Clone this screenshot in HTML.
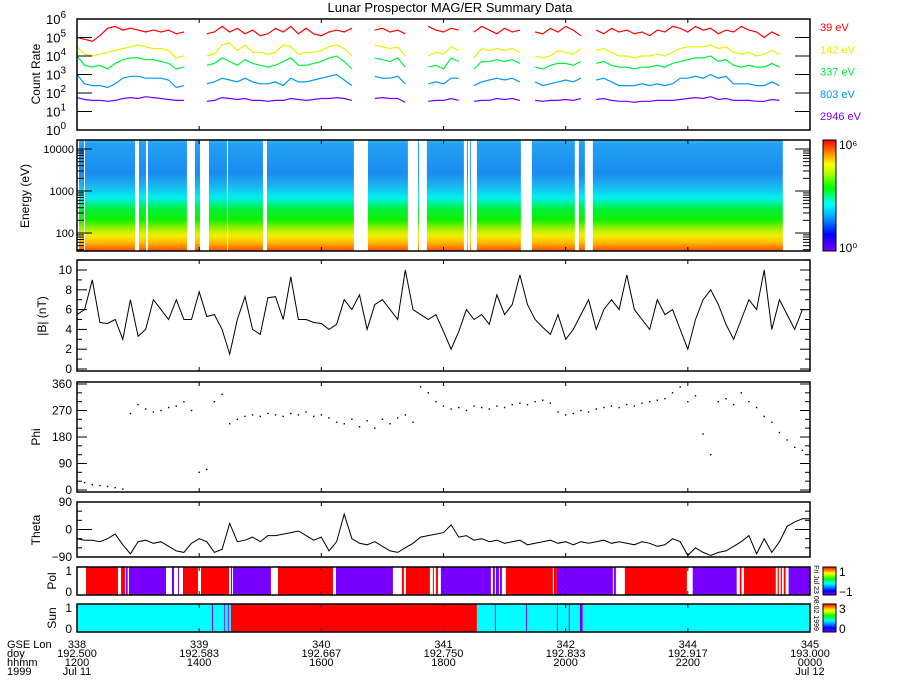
<!DOCTYPE html>
<html><head><meta charset="utf-8"><style>
html,body{margin:0;padding:0;background:#fff;}
svg{display:block;font-family:"Liberation Sans",sans-serif;}
</style></head>
<body>
<svg id="chart" xmlns="http://www.w3.org/2000/svg" width="900" height="700" viewBox="0 0 900 700">
<defs>
<linearGradient id="specGrad" x1="0" y1="0" x2="0" y2="1">
<stop offset="0" stop-color="#3ab4f2"/><stop offset="0.04" stop-color="#22a0f2"/>
<stop offset="0.3" stop-color="#1a8cf0"/><stop offset="0.42" stop-color="#1ab8f0"/>
<stop offset="0.52" stop-color="#00f0f0"/><stop offset="0.62" stop-color="#00f040"/>
<stop offset="0.72" stop-color="#10f000"/><stop offset="0.8" stop-color="#a0f000"/>
<stop offset="0.86" stop-color="#f0f000"/><stop offset="0.92" stop-color="#ffc000"/>
<stop offset="1" stop-color="#ff5000"/></linearGradient>
<linearGradient id="cbGrad" x1="0" y1="1" x2="0" y2="0">
<stop offset="0" stop-color="#7800ff"/><stop offset="0.15" stop-color="#0000ff"/>
<stop offset="0.3" stop-color="#00a0ff"/><stop offset="0.42" stop-color="#00ffff"/>
<stop offset="0.57" stop-color="#00ff00"/><stop offset="0.7" stop-color="#b0ff00"/>
<stop offset="0.78" stop-color="#ffff00"/><stop offset="0.89" stop-color="#ff8000"/>
<stop offset="1" stop-color="#ff0000"/></linearGradient>
</defs>
<text x="450" y="12" font-size="13" text-anchor="middle">Lunar Prospector MAG/ER Summary Data</text>
<g id="g"></g>
</svg>
<script>
// ---- data (hours since 1200 UT, step 0.125h for count rates) ----
const countStep = 0.125;
const cr39 = [5.0,4.9,4.8,5.1,5.5,5.6,5.4,5.5,5.4,5.3, 5.4,5.3,5.4,5.2,5.3,null,null,5.2,5.3,5.6, 5.3,5.5,5.2,5.4,5.1,5.2,5.5,5.3,5.6,5.2, 5.5,5.2,5.1,5.3,5.4,5.3,5.5,null,null,5.4, 5.5,5.3,5.4,5.2,null,null,5.6,5.4,5.3,5.5, 5.4,null,5.3,5.6,5.4,5.2,5.5,5.3,5.4,null, 5.3,5.2,5.5,5.3,5.6,5.4,5.1,null,5.4,5.2, 5.5,5.3,5.4,5.2,5.3,5.1,5.4,5.3,5.6,5.5, 5.3,5.6,5.4,5.5,5.2,5.4,5.3,5.6,5.4,5.3, 5.0,5.3,5.1];
const cr142 = [4.5,4.1,4.0,4.1,4.2,4.3,4.4,4.5,4.6,4.5, 4.4,4.4,4.3,3.9,4.0,null,null,4.0,4.1,4.6, 4.7,4.3,4.6,4.2,4.2,4.1,4.2,4.6,4.5,4.1, 4.2,4.2,4.3,4.5,4.6,4.4,4.0,null,null,4.6, 4.5,4.4,4.5,4.0,null,null,4.0,4.2,4.1,4.5, 4.3,null,3.9,4.4,4.3,4.4,4.3,4.4,4.2,null, 4.0,3.9,4.0,4.3,4.2,4.1,4.4,null,4.3,4.4, 4.2,4.0,4.0,3.9,4.0,4.0,4.1,4.0,4.2,4.4, 4.5,4.5,4.5,4.6,4.4,4.5,4.2,4.1,4.2,4.0, 4.1,4.3,4.1];
const cr337 = [4.0,3.5,3.4,3.5,3.3,3.6,3.8,3.9,3.9,3.8, 3.8,3.7,3.6,3.3,3.4,null,null,3.5,3.6,3.9, 3.7,3.5,3.8,3.6,3.5,3.4,3.5,3.7,3.9,3.5, 3.5,3.6,3.7,3.9,4.0,3.7,3.3,null,null,3.9, 3.8,3.7,3.9,3.4,null,null,3.4,3.5,3.3,3.9, 3.7,null,3.3,3.7,3.7,3.8,3.7,3.8,3.6,null, 3.4,3.3,3.5,3.6,3.6,3.5,3.7,null,3.6,3.7, 3.5,3.4,3.4,3.3,3.4,3.4,3.5,3.4,3.6,3.7, 3.8,3.9,3.9,4.0,3.7,3.8,3.5,3.4,3.5,3.4, 3.4,3.6,3.4];
const cr803 = [3.0,2.5,2.4,2.4,2.3,2.5,2.8,2.9,2.9,2.8, 2.8,2.8,2.7,2.3,2.4,null,null,2.5,2.6,2.8, 2.7,2.6,2.8,2.6,2.5,2.5,2.6,2.4,2.8,2.6, 2.6,2.7,2.8,2.9,3.0,2.7,2.4,null,null,2.9, 2.8,2.8,2.9,2.5,null,null,2.5,2.6,2.5,2.8, 2.8,null,2.4,2.6,2.7,2.8,2.7,2.8,2.6,null, 2.6,2.4,2.5,2.6,2.7,2.6,2.8,null,2.7,2.8, 2.6,2.4,2.4,2.4,2.5,2.4,2.5,2.4,2.5,2.8, 2.8,2.9,2.8,3.0,2.8,2.9,2.5,2.5,2.5,2.4, 2.4,2.6,2.4];
const cr2946 = [1.75,1.65,1.6,1.6,1.55,1.6,1.7,1.75,1.7,1.8, 1.75,1.7,1.65,1.6,1.6,null,null,1.55,1.6,1.75, 1.7,1.65,1.7,1.6,1.6,1.55,1.6,1.6,1.7,1.65, 1.6,1.65,1.7,1.7,1.75,1.7,1.6,null,null,1.7, 1.75,1.7,1.7,1.5,null,null,1.55,1.6,1.6,1.7, 1.6,null,1.55,1.6,1.6,1.7,1.65,1.7,1.6,null, 1.6,1.55,1.6,1.6,1.65,1.6,1.7,null,1.65,1.7, 1.6,1.55,1.55,1.5,1.55,1.55,1.6,1.6,1.6,1.65, 1.7,1.75,1.7,1.8,1.65,1.7,1.6,1.6,1.6,1.55, 1.55,1.65,1.6];
const channelLabels = ["39 eV","142 eV","337 eV","803 eV","2946 eV"];
// spectrogram data segments (start hour, end hour)
const specStart = [0.033,0.131,1.015,1.162,1.931,2.16,2.471,3.11,4.763,5.581,5.728,6.383,6.432,6.547,7.447,8.216,8.445];
const specEnd   = [0.115,0.949,1.129,1.8,2.013,2.455,3.044,4.533,5.417,5.597,6.334,6.399,6.448,7.267,8.15,8.314,11.555];
// magnetometer (step 0.125 h, 0..12)
const magStep = 0.125;
const bMag = [5.5,6,9,4.7,4.6,5,3,7,3.3,4, 7,6,5,7,5,5,7.8,5.3,5.5,4, 1.5,5,7.3,4,3.5,7.2,7.3,5,9.3,5, 5,4.7,4.6,4,4.5,7,6,7.5,4,6.5, 7,6,5,10,6,5.5,5,5.5,3.8,2, 3.8,6,5,5.5,4.5,7.5,5.5,6.5,9.5,6.5, 5,4.2,3.5,5.5,3,4,5.5,7,4,6, 7,6,9.5,6,5,4,7,5.5,6,4, 2,5,7,8,6.5,4.5,3,5,7,6, 10,4,7,5.5,4,6,6];
const phi = [22,25,18,15,12,8,3,260,290,275, 265,270,280,285,300,270,60,70,300,325, 225,240,250,255,250,260,255,250,260,255, 265,250,255,245,230,225,240,215,235,210, 240,225,245,255,230,350,330,300,285,275, 280,270,285,280,275,285,280,290,295,290, 300,305,295,265,255,260,270,265,275,280, 285,280,290,285,295,300,305,310,330,350, 300,320,190,120,300,310,290,330,300,280, 250,230,195,170,145,135,130];
const theta = [-30,-35,-35,-40,-30,-15,-50,-80,-40,-35, -45,-40,-55,-70,-75,-45,-30,-40,-75,-65, 20,-40,-35,-25,-40,-20,-20,-15,-10,-5, -20,-35,-25,-70,-40,50,-30,-45,-50,-40, -55,-70,-75,-60,-45,-25,-20,-15,-10,15, -25,-20,-35,-30,-40,-35,-45,-40,-35,-50, -45,-40,-35,-45,-40,-50,-40,-45,-40,-35, -45,-40,-45,-50,-40,-45,-55,-50,-30,-40, -85,-60,-75,-85,-75,-70,-55,-40,-20,-80, -30,-75,-40,10,25,35,35];
// polarity segments (start hour, value: 1, -1, null = no data)
const polStart = [0,0.147,0.671,0.72,0.786,0.80,0.83,0.851,1.457,1.555,1.588,1.653,1.669,1.735,1.98,2.029,2.488,2.52,2.537,2.553,3.175,3.29,4.19,4.239,5.172,5.319,5.352,5.385,5.777,5.826,5.843,5.876,5.908,5.957,6.776,6.808,6.841,6.858,6.907,6.923,6.956,7.021,7.79,7.807,7.856,8.773,8.789,8.822,8.969,9.984,10.08,10.80,10.85,10.88,10.92,11.44,11.47,11.49,11.52,11.54,11.57,11.6,11.65];
const polVal   = [null,1,null,1,null,-1,null,-1,null,-1,null,-1,null,1,null,1,null,-1,null,-1,null,1,null,-1,null,1,null,1,null,1,null,1,null,-1,null,-1,null,-1,null,-1,null,1,null,1,-1,null,-1,null,1,null,-1,null,1,null,1,null,1,null,1,null,1,null,-1];
// sun flag segments (start hour, value 0..3)
const sunStart = [0,2.21,2.226,2.405,2.42,2.47,2.487,2.52,6.547,6.84,6.857,7.35,7.366,7.856,7.872,8.05,8.068,8.232,8.28];
const sunVal   = [1,0,1,0,1,0,1,3,1,0,1,0,1,0,1,0,1,0,1];
const xTickHours = [0,2,4,6,8,10,12];
const lonLabels = ["338","339","340","341","342","344","345"];
const doyLabels = ["192.500","192.583","192.667","192.750","192.833","192.917","193.000"];
const hhmmLabels = ["1200","1400","1600","1800","2000","2200","0000"];
const dateLabels = ["Jul 11","","","","","","Jul 12"];

// ---- layout & scales ----
const X0=77, X1=810, HOURS=12;
const xS = h => X0 + h*(X1-X0)/HOURS;
const P = {
 cr:{t:19,b:130}, sp:{t:140,b:251}, b:{t:260,b:371}, phi:{t:382,b:492},
 th:{t:502,b:557}, pol:{t:567,b:595}, sun:{t:604,b:632}};
const yCR = v => 130 - v*(111/6);
const yE  = le => 233 - (le-2)*42;
const yB  = v => 369 - v*9.9;
const yPhi= v => 490 - v*(106/360);
const yTh = v => 529.5 - v*(27.5/90);
const NS="http://www.w3.org/2000/svg";
const G=document.getElementById('g');
function mk(tag, at, parent){const e=document.createElementNS(NS,tag);for(const k in at)e.setAttribute(k,at[k]);(parent||G).appendChild(e);return e;}
function txt(s,x,y,at){const e=mk('text',Object.assign({x:x,y:y,'font-size':11},at||{}));e.textContent=s;return e;}

// ---- count rate lines ----
const crSeries=[cr39,cr142,cr337,cr803,cr2946];
const crColors=["#ff0000","#e6f000","#00f040","#0096ff","#7800ff"];
crSeries.forEach((arr,si)=>{
 let d='',pen=false;
 arr.forEach((v,i)=>{ if(v===null){pen=false;return;} const x=xS(i*countStep),y=yCR(v); d+=(pen?'L':'M')+x.toFixed(1)+' '+y.toFixed(1); pen=true;});
 const p=mk('path',{d:d,fill:'none',stroke:crColors[si],'stroke-width':1.2});
 
 
 const l=txt(channelLabels[si],820,31+si*22.3,{fill:crColors[si],'font-size':11});
 
 
});

// ---- spectrogram ----
specStart.forEach((s,i)=>{
 const r=mk('rect',{x:xS(s),y:P.sp.t,width:Math.max(1,xS(specEnd[i])-xS(s)),height:P.sp.b-P.sp.t,fill:'url(#specGrad)'});
 
 
});

// ---- |B| ----
{let d='';bMag.forEach((v,i)=>{d+=(i?'L':'M')+xS(i*magStep).toFixed(1)+' '+yB(v).toFixed(1);});
 const p=mk('path',{d:d,fill:'none',stroke:'#000','stroke-width':1});
 
 }
// ---- Phi ----
phi.forEach((v,i)=>{
 const c=mk('rect',{x:xS(i*magStep)-0.7,y:yPhi(v)-0.7,width:1.4,height:1.4,fill:'#000'});
 
 
});
// ---- Theta ----
{let d='';theta.forEach((v,i)=>{d+=(i?'L':'M')+xS(i*magStep).toFixed(1)+' '+yTh(v).toFixed(1);});
 const p=mk('path',{d:d,fill:'none',stroke:'#000','stroke-width':1});
 
 }
// ---- Pol ----
polStart.forEach((s,i)=>{
 const v=polVal[i]; if(v===null) return;
 const e=(i+1<polStart.length)?polStart[i+1]:HOURS;
 const r=mk('rect',{x:xS(s),y:P.pol.t,width:xS(e)-xS(s),height:P.pol.b-P.pol.t,fill:v>0?'#ff0000':'#7800ff'});
 
 
});
// ---- Sun ----
sunStart.forEach((s,i)=>{
 const e=(i+1<sunStart.length)?sunStart[i+1]:HOURS;
 const v=sunVal[i];
 const col=v===3?'#ff0000':(v===0?'#7800ff':'#00ffff');
 const r=mk('rect',{x:xS(s),y:P.sun.t,width:Math.max(1,xS(e)-xS(s)),height:P.sun.b-P.sun.t,fill:col});
 
 
});

// ---- frames & ticks ----
function line(x1,y1,x2,y2,w){return mk('line',{x1:x1,y1:y1,x2:x2,y2:y2,stroke:'#000','stroke-width':w||1});}
Object.keys(P).forEach(k=>{
 const p=P[k];
 const f=mk('rect',{x:X0,y:p.t,width:X1-X0,height:p.b-p.t,fill:'none',stroke:'#000','stroke-width':1.5});
 
 
 xTickHours.forEach(h=>{line(xS(h),p.t,xS(h),p.t+4);line(xS(h),p.b,xS(h),p.b-4);});
});
function ytick(y,len){line(X0,y,X0+len,y);line(X1,y,X1-len,y);}
// count rate axis
for(let d=0;d<=6;d++){ytick(yCR(d),15);
 const t=txt('10',66,yCR(d)+5,{'font-size':13,'text-anchor':'end'});
 const s=document.createElementNS(NS,'tspan');s.setAttribute('dy','-6');s.setAttribute('font-size','10');s.textContent=String(d);t.appendChild(s);
 
 }
// energy axis
for(let dec=1;dec<=4;dec++){for(let m=1;m<10;m++){const le=dec+Math.log10(m);const y=yE(le);if(y<P.sp.t||y>P.sp.b)continue;ytick(y,m===1?15:7);}}
[["100",2],["1000",3],["10000",4]].forEach(a=>{const t=txt(a[0],74,yE(a[1])+4,{'font-size':11,'text-anchor':'end'});
 
 });
// |B| axis
for(let v=0;v<=11;v++){const y=yB(v);if(y<P.b.t)break;ytick(y,v%2?5:10);
 if(v%2===0){const t=txt(String(v),72,y+4,{'font-size':12,'text-anchor':'end'});
 
 }}
// phi axis
for(let v=0;v<=360;v+=30){ytick(yPhi(v),v%90?5:10);
 if(v%90===0){const t=txt(String(v),72,yPhi(v)+4,{'font-size':12,'text-anchor':'end'});
 
 }}
// theta axis
for(let v=-90;v<=90;v+=30){ytick(yTh(v),v%90?5:15);
 if(v%90===0){const t=txt(v<0?'−90':String(v),72,yTh(v)+4,{'font-size':12,'text-anchor':'end'});
 
 }}
// pol/sun tick labels
[[P.pol,'pol'],[P.sun,'sun']].forEach(a=>{
 const t1=txt('1',72,a[0].t+8,{'font-size':12,'text-anchor':'end'});
 
 
 const t0=txt('0',72,a[0].b+1,{'font-size':12,'text-anchor':'end'});
 
 });
// y axis titles
[["Count Rate",44,74],["Energy (eV)",33,196],["|B| (nT)",50,316],["Phi",44,437],["Theta",44,530],["Pol",60,581],["Sun",60,618]].forEach(a=>{
 const t=txt(a[0],a[1]-4,a[2],{'font-size':12,'text-anchor':'middle',transform:'rotate(-90 '+(a[1]-4)+' '+a[2]+')'});
 
 });
// colorbars
[[140,251,'10⁶','10⁰','energy'],[567,595,'1','−1','pol'],[604,632,'3','0','sun']].forEach(a=>{
 const r=mk('rect',{x:823,y:a[0],width:13,height:a[1]-a[0],fill:'url(#cbGrad)',stroke:'#000','stroke-width':1});
 
 
 const t1=txt(a[2],839,a[0]+9,{'font-size':12});
 
 
 const t2=txt(a[3],839,a[1]+1,{'font-size':12});
 
 });
{const t=txt('Fri Jul 23 08:02 1999',814,598,{'font-size':7,'text-anchor':'middle',transform:'rotate(90 814 598)'});
 
 }
// bottom x labels
[["GSE Lon",648],["doy",657],["hhmm",666],["1999",675]].forEach(a=>{const t=txt(a[0],7,a[1],{'font-size':11});
 
 });
xTickHours.forEach((h,i)=>{
 [lonLabels[i],doyLabels[i],hhmmLabels[i],dateLabels[i]].forEach((s,r)=>{ if(!s) return;
  const t=txt(s,xS(h),648+r*9,{'font-size':11,'text-anchor':'middle'});
  
  });
});
</script>
</body></html>
